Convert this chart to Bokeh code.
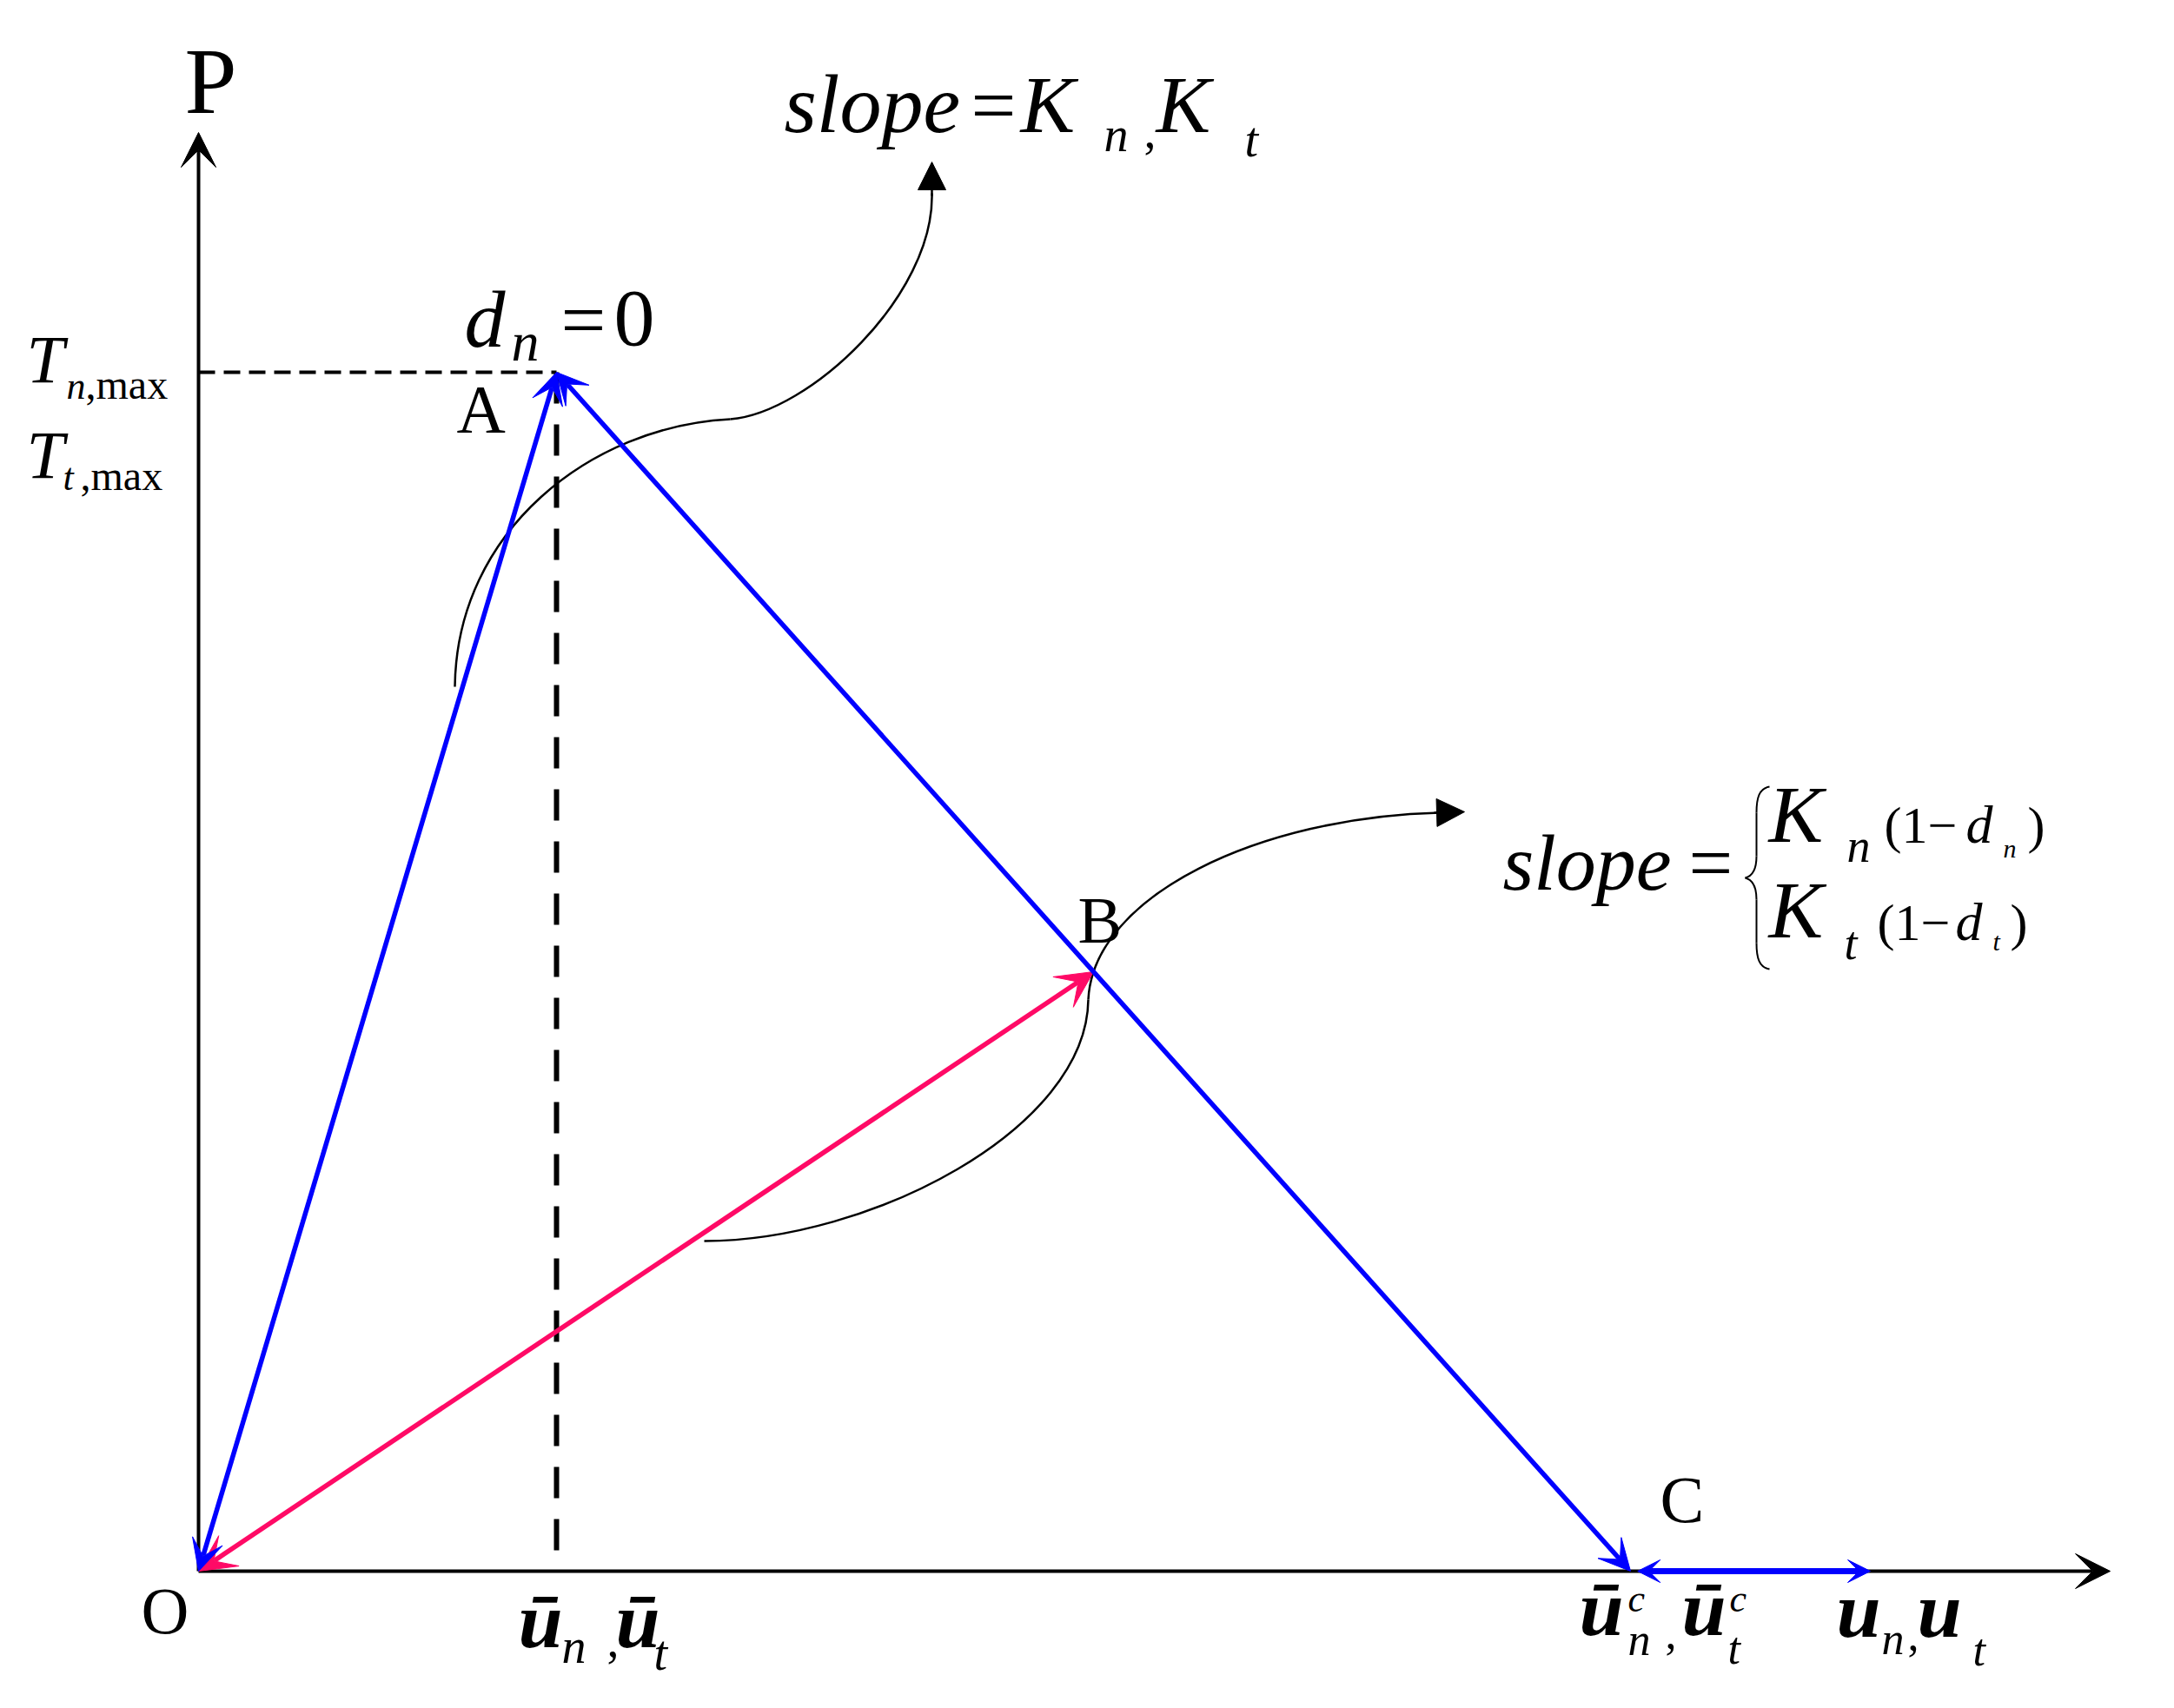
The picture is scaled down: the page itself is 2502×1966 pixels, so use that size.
from bokeh.plotting import figure
from bokeh.models import Range1d, Arrow, VeeHead, NormalHead, Label
from bokeh.embed import file_html
from bokeh.resources import INLINE

# ---- diagram data (normalised: u / u_bar, P / T_max) ----
point_names = ["O", "A", "B", "C", "D"]
u_vals = [0.0, 1.0, 2.5, 4.0, 4.67]
p_vals = [0.0, 1.0, 0.5, 0.0, 0.0]
axis_u_max = 5.34
axis_p_max = 1.2

BLUE = "#0000FF"
PINK = "#FF0A66"
FONT = "Liberation Serif"

W, H = 2486, 1950
OX, OY = 228.0, 1808.0      # origin position in page pixels
SU, SP = 412.0, 1380.0      # pixels per unit
BASE_K = 0.39               # baseline correction (fraction of font size)


def X(px):
    return (px - OX) / SU


def Y(py):
    return (OY - py) / SP


p = figure(width=W, height=H, output_backend="svg", toolbar_location=None,
           x_range=Range1d(X(0), X(W)), y_range=Range1d(Y(H), Y(0)),
           x_axis_location=None, y_axis_location=None, min_border=0)
p.grid.visible = False
p.outline_line_color = None
p.background_fill_color = "white"
p.border_fill_color = "white"

pt = dict(zip(point_names, zip(u_vals, p_vals)))

# axes with arrow heads
p.add_layout(Arrow(x_start=0, y_start=0, x_end=0, y_end=axis_p_max, line_width=4, line_color="black",
                   end=VeeHead(size=40, fill_color="black", line_color="black", line_width=1)))
p.add_layout(Arrow(x_start=0, y_start=0, x_end=axis_u_max, y_end=0, line_width=4, line_color="black",
                   end=VeeHead(size=40, fill_color="black", line_color="black", line_width=1)))

# dashed guide lines at A
uA, pA = pt["A"]
p.line([0, uA], [pA, pA], line_color="black", line_width=4, line_dash="19 10")
p.line([uA, uA], [pA, 0], line_color="black", line_width=6, line_dash="36 24")


def head(color, size=36):
    return VeeHead(size=size, fill_color=color, line_color=color, line_width=1)


def darrow(a, b, color, lw=5, size=36):
    (x0, y0), (x1, y1) = pt[a], pt[b]
    p.add_layout(Arrow(x_start=x0, y_start=y0, x_end=x1, y_end=y1, line_color=color, line_width=lw,
                       start=head(color, size), end=head(color, size)))


# unloading / reloading path (pink) and loading path (blue)
darrow("O", "B", PINK, lw=5.5, size=42)
darrow("O", "A", BLUE, lw=5.5)
darrow("A", "C", BLUE, lw=5.5)
(xc, yc), (xd, yd) = pt["C"], pt["D"]
p.add_layout(Arrow(x_start=xc + 0.02, y_start=yc, x_end=xd, y_end=yd, line_color=BLUE, line_width=7,
                   start=head(BLUE, 26), end=head(BLUE, 26)))

# curved pointer arrows (page-pixel control points)
curves = [
    ((523, 790), (525, 610), (680, 490), (840, 482)),
    ((840, 482), (930, 475), (1075, 340), (1072, 222)),
    ((810, 1428), (1000, 1428), (1250, 1300), (1252, 1150)),
    ((1252, 1150), (1258, 1030), (1450, 940), (1656, 935)),
]
p.bezier(x0=[X(c[0][0]) for c in curves], y0=[Y(c[0][1]) for c in curves],
         x1=[X(c[3][0]) for c in curves], y1=[Y(c[3][1]) for c in curves],
         cx0=[X(c[1][0]) for c in curves], cy0=[Y(c[1][1]) for c in curves],
         cx1=[X(c[2][0]) for c in curves], cy1=[Y(c[2][1]) for c in curves],
         line_color="black", line_width=2.5)
p.add_layout(Arrow(x_start=X(1072), y_start=Y(225), x_end=X(1072), y_end=Y(186), line_width=2.5,
                   end=NormalHead(size=32, fill_color="black", line_color="black")))
p.add_layout(Arrow(x_start=X(1650), y_start=Y(935), x_end=X(1685), y_end=Y(934), line_width=2.5,
                   end=NormalHead(size=32, fill_color="black", line_color="black")))

# brace
brace = [
    ((2036, 905), (2024, 907), (2021, 918), (2021, 935)),
    ((2021, 985), (2021, 1000), (2016, 1008), (2008, 1010)),
    ((2008, 1010), (2016, 1012), (2021, 1020), (2021, 1035)),
    ((2021, 1085), (2021, 1102), (2024, 1113), (2036, 1115)),
]
p.bezier(x0=[X(c[0][0]) for c in brace], y0=[Y(c[0][1]) for c in brace],
         x1=[X(c[3][0]) for c in brace], y1=[Y(c[3][1]) for c in brace],
         cx0=[X(c[1][0]) for c in brace], cy0=[Y(c[1][1]) for c in brace],
         cx1=[X(c[2][0]) for c in brace], cy1=[Y(c[2][1]) for c in brace],
         line_color="black", line_width=2)
p.segment(x0=[X(2021), X(2021)], y0=[Y(935), Y(1035)], x1=[X(2021), X(2021)], y1=[Y(985), Y(1085)],
          line_color="black", line_width=2)

N, I, BI = "normal", "italic", "bold italic"
labels = [
    # text, x(px), baseline(px), size, style
    ("P", 212, 135, 108, N),
    # top slope label
    ("slope", 902, 156, 96, I), ("=", 1117, 156, 92, N), ("K", 1174, 156, 94, I),
    ("n", 1270, 176, 56, I), (",", 1316, 172, 56, N), ("K", 1330, 156, 94, I), ("t", 1432, 182, 56, I),
    # d_n = 0
    ("d", 534, 403, 94, I), ("n", 588, 418, 64, I), ("=", 645, 403, 92, N), ("0", 706, 403, 94, N),
    # T labels
    ("T", 30, 443, 78, I), ("n", 76, 461, 44, I), (",max", 98, 461, 48, N),
    ("T", 30, 553, 78, I), ("t", 72, 566, 44, I), (",max", 92, 566, 48, N),
    # points
    ("A", 525, 500, 78, N), ("B", 1240, 1088, 76, N), ("C", 1910, 1755, 76, N), ("O", 162, 1883, 76, N),
    # x labels
    ("ū", 596, 1900, 92, BI), ("n", 646, 1916, 56, I), (",", 698, 1909, 56, N),
    ("ū", 708, 1900, 92, BI), ("t", 752, 1924, 56, I),
    ("ū", 1817, 1886, 92, BI), ("c", 1873, 1857, 44, I), ("n", 1873, 1907, 52, I), (",", 1916, 1899, 52, N),
    ("ū", 1935, 1886, 92, BI), ("c", 1990, 1857, 44, I), ("t", 1988, 1917, 52, I),
    ("u", 2113, 1888, 92, BI), ("n", 2165, 1906, 52, I), (",", 2195, 1901, 52, N),
    ("u", 2206, 1888, 92, BI), ("t", 2270, 1919, 52, I),
    # right slope label
    ("slope", 1729, 1028, 92, I), ("=", 1943, 1028, 90, N),
    ("K", 2035, 973, 94, I), ("n", 2125, 995, 54, I), ("(1−", 2168, 973, 60, N), ("d", 2262, 973, 62, I),
    ("n", 2305, 988, 30, I), (")", 2333, 973, 60, N),
    ("K", 2035, 1083, 94, I), ("t", 2122, 1107, 54, I), ("(1−", 2160, 1085, 60, N), ("d", 2250, 1085, 62, I),
    ("t", 2293, 1095, 30, I), (")", 2313, 1085, 60, N),
]
for txt, lx, ly, size, style in labels:
    p.add_layout(Label(x=X(lx), y=Y(ly - BASE_K * size), text=txt, text_font=FONT,
                       text_font_size=f"{size}px", text_font_style=style, text_color="black",
                       text_align="left", text_baseline="alphabetic"))

open("out.html", "w").write(file_html(p, INLINE))
